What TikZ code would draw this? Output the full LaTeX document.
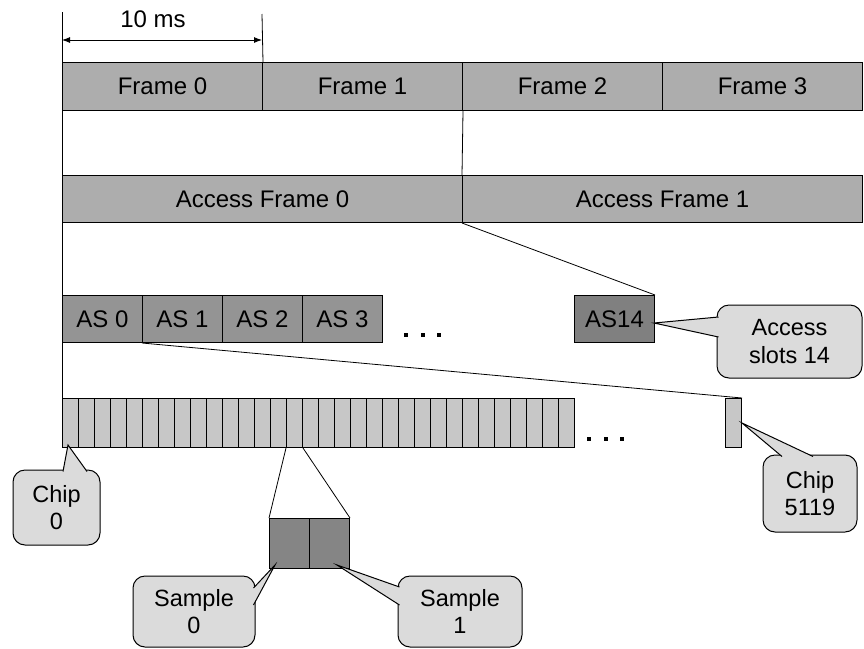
\documentclass[tikz,border=0pt]{standalone}
\usepackage{fontspec}
\setmainfont{Liberation Sans}
\usetikzlibrary{arrows.meta,calc}
\definecolor{frmgray}{gray}{0.68}
\definecolor{asgray}{gray}{0.58}
\definecolor{asdark}{gray}{0.50}
\definecolor{chipgray}{gray}{0.78}
\definecolor{cogray}{gray}{0.86}
\definecolor{smpgray}{gray}{0.52}
\tikzset{
  bx/.style={draw, line width=1pt, anchor=north west, inner sep=0pt,
    font=\fontsize{24}{28}\selectfont},
  frm/.style={bx, fill=frmgray, minimum width=200pt, minimum height=48pt},
  afrm/.style={bx, fill=frmgray, minimum width=400pt, minimum height=47pt},
  asbox/.style={bx, fill=asgray, minimum width=80pt, minimum height=47pt},
  chip/.style={bx, fill=chipgray, minimum width=16pt, minimum height=49pt},
  smp/.style={bx, fill=smpgray, minimum width=40pt, minimum height=50pt},
  dotmark/.style={fill=black, inner sep=0pt, minimum size=4.5pt, rectangle},
  cobox/.style={draw, line width=1pt, fill=cogray, rounded corners=12pt,
    align=center, inner sep=0pt, font=\fontsize{23.5}{27.5}\selectfont},
  conn/.style={line width=0.8pt},
}
\newcommand\wedgeco[3]{%
  \fill[cogray] (#1) -- (#2) -- (#3) -- cycle;
  \draw[line width=1pt] (#2) -- (#1) -- (#3);}
\begin{document}
\begin{tikzpicture}[x=1pt,y=-1pt]
\useasboundingbox (0,0) rectangle (864,648);
% frames
\node[frm] (f0) at (62,62) {Frame 0};
\node[frm] (f1) at (262,62) {Frame 1};
\node[frm] (f2) at (462,62) {Frame 2};
\node[frm] (f3) at (662,62) {Frame 3};
% access frames
\node[afrm] (af0) at (62,175) {Access Frame 0};
\node[afrm] (af1) at (462,175) {Access Frame 1};
% access slots
\node[asbox] (as0) at (62,295) {AS 0};
\node[asbox] (as1) at (142,295) {AS 1};
\node[asbox] (as2) at (222,295) {AS 2};
\node[asbox] (as3) at (302,295) {AS 3};
\node[asbox, fill=asdark] (as14) at (574,295) {AS14};
\node[dotmark] (d1) at (406,335) {};
\node[dotmark] (d2) at (423,335) {};
\node[dotmark] (d3) at (439,335) {};
% chips
\foreach \i in {0,...,31} {\node[chip] (c\i) at ({62+16*\i},398) {};}
\node[chip] (c5119) at (725,398) {};
\node[dotmark] (d4) at (589,439) {};
\node[dotmark] (d5) at (606,439) {};
\node[dotmark] (d6) at (622,439) {};
% samples
\node[smp] (s0) at (269,518) {};
\node[smp] (s1) at (309,518) {};
% timing
\coordinate (top) at (62,12);
\coordinate (tick) at (262,14);
\coordinate (a1) at (62,40);
\coordinate (a2) at (262,40);
\draw[conn] (top) -- (c0.north west);
\draw[conn] (tick) -- (f0.north east);
\draw[line width=0.9pt, {Latex[length=8pt,width=6pt]}-{Latex[length=8pt,width=6pt]}] (a1) -- (a2);
\node[font=\fontsize{24}{28}\selectfont] (ms) at (153,19) {10 ms};
% zoom lines
\draw[conn] (f1.south east) -- (af1.north west);
\draw[conn] (af1.south west) -- (as14.north east);
\draw[conn] (as1.south west) -- (c5119.north east);
\draw[conn] (c14.south west) -- (s0.north west);
\draw[conn] (c14.south east) -- (s1.north east);
% callouts
\node[cobox, minimum width=145pt, minimum height=73pt] (acc) at (789.5,341.5) {Access\\slots 14};
\coordinate (accb1) at (718.5,317);
\coordinate (accb2) at (718.5,337);
\wedgeco{$(as14.east)+(-1,4)$}{accb1}{accb2}
\node[cobox, minimum width=87pt, minimum height=75pt] (ch0) at (56.5,507.5) {Chip\\0};
\coordinate (ch0b1) at (63,471.5);
\coordinate (ch0b2) at (87,471.5);
\coordinate (ch0t) at (68,445);
\wedgeco{ch0t}{ch0b1}{ch0b2}
\node[cobox, minimum width=94pt, minimum height=77pt] (ch5) at (810,493.5) {Chip\\5119};
\coordinate (ch5b1) at (782,456.5);
\coordinate (ch5b2) at (813,456.5);
\wedgeco{c5119.east}{ch5b1}{ch5b2}
\node[cobox, minimum width=122pt, minimum height=71pt] (sc0) at (194,611.5) {Sample\\0};
\coordinate (sc0b1) at (253.5,588);
\coordinate (sc0b2) at (253.5,605);
\coordinate (sc0t) at (275,565);
\wedgeco{sc0t}{sc0b1}{sc0b2}
\node[cobox, minimum width=124pt, minimum height=71pt] (sc1) at (460,611.5) {Sample\\1};
\coordinate (sc1b1) at (399.5,587);
\coordinate (sc1b2) at (399.5,605);
\coordinate (sc1t) at (337,565);
\wedgeco{sc1t}{sc1b1}{sc1b2}
\end{tikzpicture}
\end{document}
